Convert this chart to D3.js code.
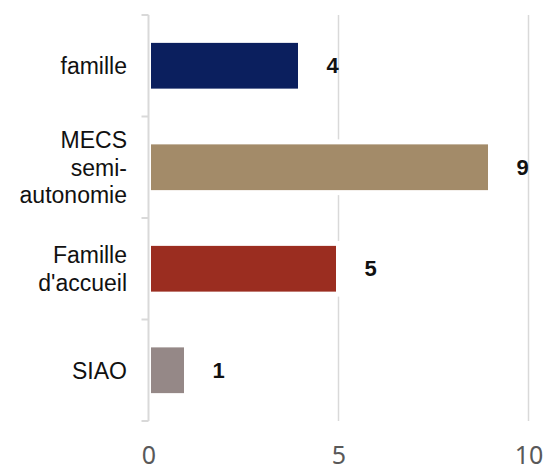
<!DOCTYPE html>
<html>
<head>
  <meta charset="utf-8">
  <script src="https://d3js.org/d3.v7.min.js"></script>
  <style>
    body { margin: 0; background: #fff; }
  </style>
</head>
<body>
  <div id="container"></div>
  <script>
  const categories = ["famille", "MECS\nsemi-\nautonomie", "Famille\nd'accueil", "SIAO"];
  const values = [4, 9, 5, 1];
  const colors = ["#0b1f5e", "#a38b69", "#9b2d20", "#958887"];
  const xTicks = [0, 5, 10];

  const width = 546, height = 472;
  const plotLeft = 148.5, plotRight = 528.5, plotTop = 15, plotBottom = 421;

  const svg = d3.select("#container").append("svg")
    .attr("width", width)
    .attr("height", height);

  const x = d3.scaleLinear().domain([0, 10]).range([plotLeft, plotRight]);
  const y = d3.scaleBand().domain(categories).range([plotTop, plotBottom])
    .paddingInner(0.5).paddingOuter(0.25);

  // vertical gridlines
  svg.selectAll(".grid")
    .data(xTicks.filter(t => t > 0))
    .enter().append("line")
    .attr("x1", d => x(d)).attr("x2", d => x(d))
    .attr("y1", plotTop).attr("y2", plotBottom)
    .attr("stroke", "#d9d9d9")
    .attr("stroke-width", 1.5);

  // bars
  svg.selectAll(".bar")
    .data(values)
    .enter().append("rect")
    .attr("x", x(0))
    .attr("y", (d, i) => y(categories[i]))
    .attr("width", d => x(d) - x(0))
    .attr("height", y.bandwidth())
    .attr("fill", (d, i) => colors[i])
    .attr("stroke", "#fff")
    .attr("stroke-width", 5);

  // left axis line with ticks between categories
  svg.append("line")
    .attr("x1", plotLeft).attr("x2", plotLeft)
    .attr("y1", plotTop).attr("y2", plotBottom)
    .attr("stroke", "#d9d9d9").attr("stroke-width", 2);

  const bounds = d3.range(categories.length + 1)
    .map(i => plotTop + i * (plotBottom - plotTop) / categories.length);
  svg.selectAll(".ytick")
    .data(bounds)
    .enter().append("line")
    .attr("x1", plotLeft - 7).attr("x2", plotLeft)
    .attr("y1", d => d).attr("y2", d => d)
    .attr("stroke", "#d9d9d9").attr("stroke-width", 2);

  // category labels
  const lh = 27.5;
  categories.forEach(c => {
    const lines = c.split("\n");
    const cy = y(c) + y.bandwidth() / 2;
    const t = svg.append("text")
      .attr("text-anchor", "end")
      .attr("font-family", "Liberation Sans, Arial, sans-serif")
      .attr("font-size", 23)
      .attr("fill", "#111");
    lines.forEach((l, j) => {
      t.append("tspan")
        .attr("x", 127)
        .attr("y", cy - (lines.length - 1) * lh / 2 + j * lh + 8.3)
        .text(l);
    });
  });

  // value labels
  svg.selectAll(".val")
    .data(values)
    .enter().append("text")
    .attr("x", d => x(d) + 32)
    .attr("y", (d, i) => y(categories[i]) + y.bandwidth() / 2)
    .attr("dy", "0.35em")
    .attr("text-anchor", "middle")
    .attr("font-family", "Liberation Sans, Arial, sans-serif")
    .attr("font-weight", "bold")
    .attr("font-size", 22)
    .attr("fill", "#111")
    .text(d => d);

  // bottom axis labels
  const xAxis = svg.append("g")
    .attr("transform", `translate(0, ${plotBottom})`)
    .call(d3.axisBottom(x).tickValues(xTicks).tickSize(0).tickPadding(0));
  xAxis.select(".domain").remove();
  xAxis.selectAll("text")
    .attr("y", 43)
    .attr("dy", 0)
    .attr("font-family", "Noto Sans, sans-serif")
    .attr("font-size", 25)
    .attr("fill", "#595959");
  </script>
</body>
</html>
